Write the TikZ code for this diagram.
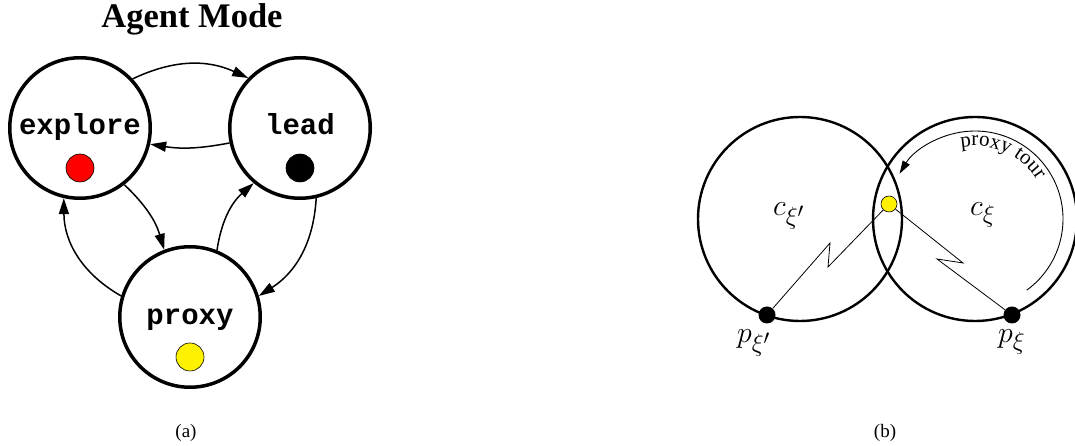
\documentclass[tikz,border=0pt]{standalone}
\usepackage{graphicx}
\usepackage{fontspec}
\setmainfont{Liberation Serif}
\setmonofont{Liberation Mono}
\usetikzlibrary{arrows.meta,decorations.text}
\newcommand{\bigmath}[1]{{\fontsize{24.88}{30}\selectfont\scalebox{1.2}{$#1$}}}
\tikzset{
  state/.style={circle, draw, line width=3.5pt, minimum size=140.5pt, inner sep=0pt},
  statelbl/.style={font=\fontsize{29}{34}\selectfont\ttfamily\bfseries, anchor=base, inner sep=0pt},
  sdot/.style={circle, draw, line width=0.6pt, minimum size=28pt, inner sep=0pt},
  trans/.style={line width=1.5pt, -{Triangle[length=16pt,width=10pt]}},
  region/.style={circle, draw, line width=2.4pt, minimum size=204pt, inner sep=0pt},
  bdot/.style={circle, fill=black, minimum size=17pt, inner sep=0pt},
  ydot/.style={circle, draw, fill=yellow, line width=0.6pt, minimum size=16pt, inner sep=0pt},
  mlbl/.style={anchor=base west, inner sep=0pt},
  zig/.style={line width=0.8pt},
  caption/.style={font=\fontsize{19}{22}\selectfont, anchor=base, inner sep=0pt}
}
\begin{document}
\begin{tikzpicture}[x=1pt,y=1pt]
\useasboundingbox (0,0) rectangle (1075,446);
\clip (0,0) rectangle (1075,446);
% ---------- (a) ----------
\node[font=\fontsize{34.5}{40}\selectfont\bfseries, anchor=base, inner sep=0pt] (title) at (192,418) {Agent Mode};
\node[state] (explore) at (80,318) {};
\node[state] (lead) at (300,318) {};
\node[state] (proxy) at (190,129) {};
\node[statelbl] (explorelbl) at (80,311) {explore};
\node[statelbl] (leadlbl) at (300,311) {lead};
\node[statelbl] (proxylbl) at (190,121) {proxy};
\node[sdot, fill=red] (rdot) at (80,278) {};
\node[sdot, fill=black] (kdot) at (300,278) {};
\node[sdot, fill=yellow] (ydota) at (190,89) {};
\draw[trans] (explore.43) to[bend left=25] (lead.136);
\draw[trans] (lead.192) to[bend left=10] (explore.-13);
\draw[trans] (explore.-52) to[bend left=15] (proxy.111);
\draw[trans] (proxy.163) to[bend left=30] (explore.-103);
\draw[trans] (proxy.68) to[bend left=20] (lead.-130);
\draw[trans] (lead.-77) to[bend left=27] (proxy.17);
\node[caption] (capa) at (186,8) {(a)};
% ---------- (b) ----------
\node[region] (cL) at (800,227) {};
\node[region] (cR) at (975,227) {};
\coordinate (zL1) at (830,203);
\coordinate (zL2) at (828,179);
\coordinate (zR1) at (963,183);
\coordinate (zR2) at (937,187);
\node[bdot] (pL) at (767,131) {};
\node[bdot] (pR) at (1012,131) {};
\node[ydot] (yd) at (889,242) {};
\draw[zig] (pL) -- (zL1) -- (zL2) -- (yd);
\draw[zig] (yd) -- (zR1) -- (zR2) -- (pR);
\path (cR.center) ++(-54:88) coordinate (arcstart);
\draw[line width=0.9pt, -{Triangle[length=13pt,width=8pt]}] (arcstart) arc[start angle=-54, end angle=149, radius=88];
\path (cR.center) ++(101:73) coordinate (tstart);
\path[decorate, decoration={text along path, text align=left, text={|\fontsize{21}{25}\selectfont|proxy tour}}] (tstart) arc[start angle=101, end angle=10, radius=73];
\node[mlbl] (cLlbl) at (773,230) {\bigmath{c_{\xi'}}};
\node[mlbl] (cRlbl) at (970,230) {\bigmath{c_{\xi}}};
\node[mlbl] (pLlbl) at (737,103) {\bigmath{p_{\xi'}}};
\node[mlbl] (pRlbl) at (998,103) {\bigmath{p_{\xi}}};
\node[caption] (capb) at (885,8) {(b)};
\end{tikzpicture}
\end{document}
